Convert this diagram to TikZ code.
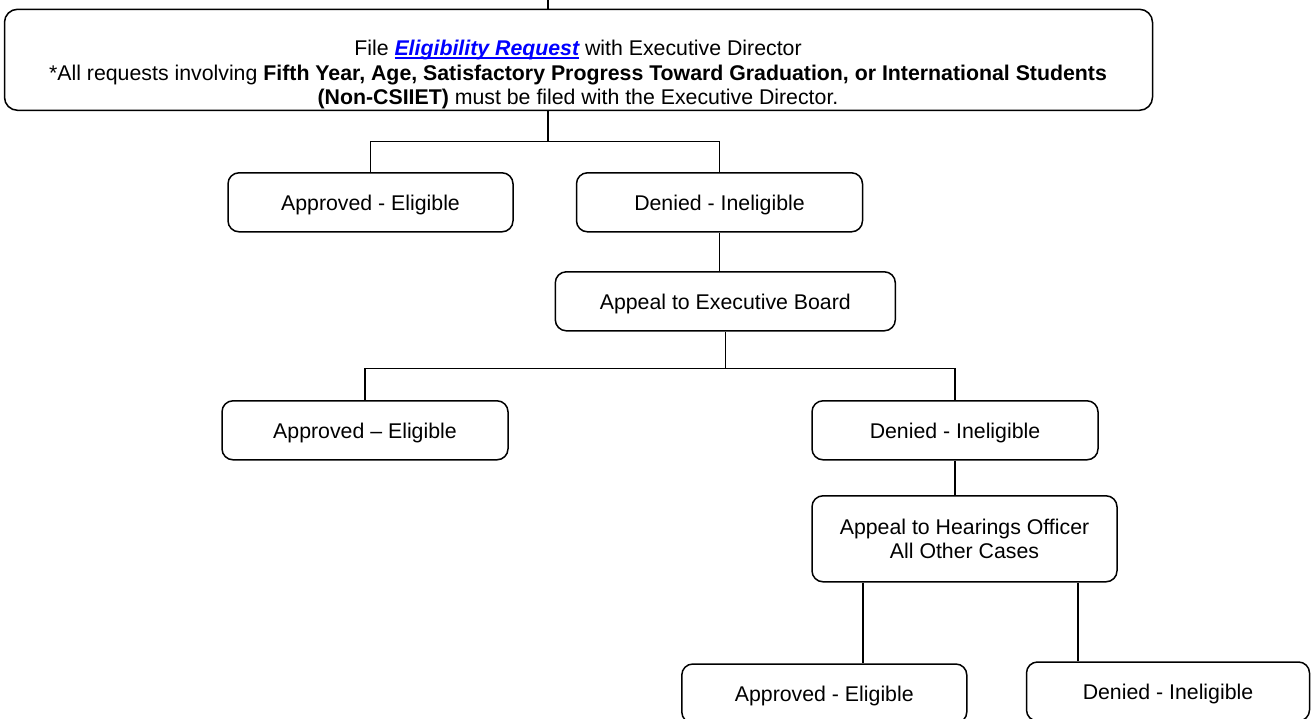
\documentclass[tikz,border=0pt]{standalone}
\usepackage{fontspec}
\setmainfont{Liberation Sans}
\newcommand\myul[1]{\setbox0\hbox{#1}\rlap{\rule[-3pt]{\wd0}{1.6pt}}\box0}
\begin{document}
\begin{tikzpicture}[x=1pt,y=-1pt,
  box/.style={draw, line width=1.5pt, rounded corners=11pt, inner sep=0pt, align=center,
    text depth=0pt, font=\fontsize{21.3}{24.5}\selectfont},
  txt/.style={inner sep=0pt, align=center, text depth=0pt, font=\fontsize{21.3}{24.5}\selectfont},
  conn/.style={line width=1.5pt}]
\useasboundingbox (0,0) rectangle (1311,719);
\clip (0,0) rectangle (1311,719);
% boxes
\node[box, rounded corners=13pt, minimum width=1148pt, minimum height=101pt] (top) at (578.5,59.8) {};
\node[txt] (toptext) at (578,72.7) {File {\color{blue}\bfseries\itshape\myul{Eligibility Request}} with Executive Director\\
*All requests involving \textbf{Fifth Year, Age, Satisfactory Progress Toward Graduation, or International Students}\\
\textbf{(Non-CSIIET)} must be filed with the Executive Director.};
\node[box, minimum width=285pt, minimum height=59pt] (A1) at (370.5,202.3) {Approved - Eligible};
\node[box, minimum width=286pt, minimum height=59pt] (D1) at (719.5,202.3) {Denied - Ineligible};
\node[box, minimum width=340pt, minimum height=59pt] (EB) at (725.3,301.3) {Appeal to Executive Board};
\node[box, minimum width=286pt, minimum height=59pt] (A2) at (365,430.3) {Approved -- Eligible};
\node[box, minimum width=286pt, minimum height=59pt] (D2) at (955,430.3) {Denied - Ineligible};
\node[box, minimum width=305pt, minimum height=86pt] (HO) at (964.5,538.8) {Appeal to Hearings Officer\\All Other Cases};
\node[box, minimum width=285pt, minimum height=59pt] (A3) at (824.3,693.5) {Approved - Eligible};
\node[box, minimum width=283pt, minimum height=59pt] (D3) at (1168,691.5) {Denied - Ineligible};
% connectors
\coordinate (ts) at (548,0);
\coordinate (tb) at (548,141.7);
\coordinate (eb) at (725.3,368.7);
\coordinate (h1) at (863,0);
\coordinate (h2) at (1078,0);
\draw[conn] (ts) -- (ts |- top.north);
\draw[conn] (tb |- top.south) -- (tb);
\draw[conn] (A1.north) |- (tb) -| (D1.north);
\draw[conn] (D1.south) -- (D1.south |- EB.north);
\draw[conn] (EB.south) -- (eb);
\draw[conn] (A2.north) |- (eb) -| (D2.north);
\draw[conn] (D2.south) -- (D2.south |- HO.north);
\draw[conn] (h1 |- HO.south) -- (h1 |- A3.north);
\draw[conn] (h2 |- HO.south) -- (h2 |- D3.north);
\end{tikzpicture}
\end{document}
